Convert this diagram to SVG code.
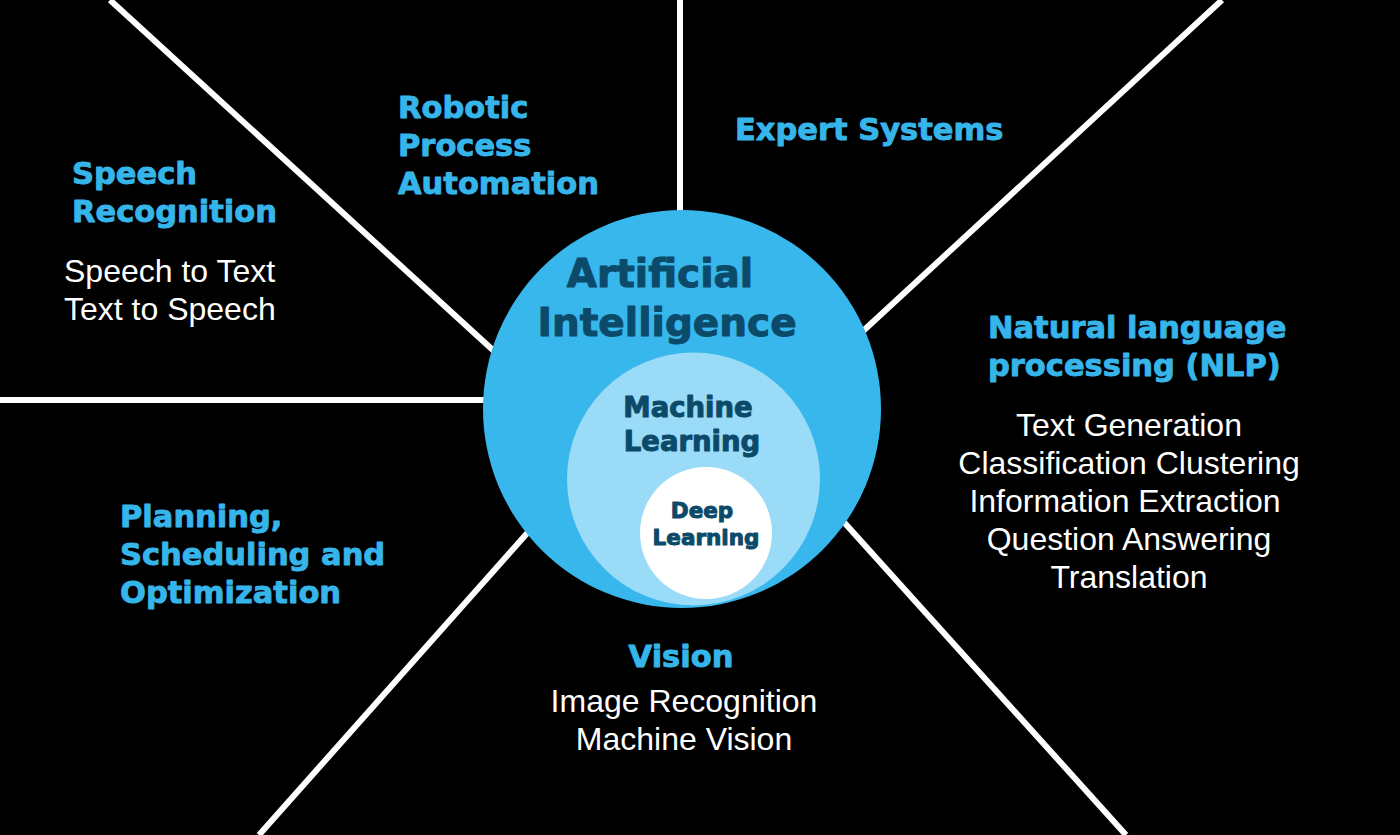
<svg xmlns="http://www.w3.org/2000/svg" width="1400" height="835" viewBox="0 0 1400 835">
  <style>
    .spoke { stroke: #ffffff; stroke-width: 6; stroke-linecap: butt; fill: none; }
    .head { font-family: "DejaVu Sans", "Liberation Sans", sans-serif; font-weight: bold; font-size: 30.5px; fill: #36B5EA; stroke: #36B5EA; stroke-width: 0.9px; stroke-linejoin: round; }
    .item { font-family: "Liberation Sans", Arial, sans-serif; font-size: 32px; fill: #ffffff; }
    .dark { font-family: "DejaVu Sans", "Liberation Sans", sans-serif; font-weight: bold; fill: #0C4A6A; stroke: #0C4A6A; stroke-width: 1px; stroke-linejoin: round; text-anchor: middle; }
    .mid { text-anchor: middle; }
  </style>
  <rect x="0" y="0" width="1400" height="835" fill="#000000"/>

  <g id="connectors">
    <line class="spoke" x1="110" y1="0" x2="495" y2="352"/>
    <line class="spoke" x1="680" y1="0" x2="680" y2="215"/>
    <line class="spoke" x1="1222" y1="0" x2="862" y2="332"/>
    <line class="spoke" x1="0" y1="400" x2="486" y2="400"/>
    <line class="spoke" x1="259" y1="835" x2="530" y2="530"/>
    <line class="spoke" x1="1126" y1="835" x2="842" y2="520"/>
  </g>

  <g id="ai-core">
    <circle cx="682" cy="409" r="199" fill="#38B7EC"/>
    <circle cx="693.5" cy="479" r="126.5" fill="#9ADBF8"/>
    <circle cx="706" cy="533" r="66" fill="#ffffff"/>
    <text class="dark" font-size="39" x="660" y="287">Artificial</text>
    <text class="dark" font-size="39" x="667" y="336">Intelligence</text>
    <text class="dark" font-size="27.5" x="688" y="417">Machine</text>
    <text class="dark" font-size="27.5" x="692" y="451">Learning</text>
    <text class="dark" font-size="21.5" x="702" y="518">Deep</text>
    <text class="dark" font-size="21.5" x="706" y="545">Learning</text>
  </g>

  <g id="speech-recognition">
    <text class="head" x="72" y="184">Speech</text>
    <text class="head" x="72" y="222">Recognition</text>
    <text class="item" x="64" y="282">Speech to Text</text>
    <text class="item" x="64" y="320">Text to Speech</text>
  </g>

  <g id="rpa">
    <text class="head" x="398" y="118">Robotic</text>
    <text class="head" x="398" y="156">Process</text>
    <text class="head" x="398" y="194">Automation</text>
  </g>

  <g id="expert-systems">
    <text class="head" x="735" y="140">Expert Systems</text>
  </g>

  <g id="nlp">
    <text class="head" x="988" y="338">Natural language</text>
    <text class="head" x="988" y="376">processing (NLP)</text>
    <text class="item mid" x="1129" y="436">Text Generation</text>
    <text class="item mid" x="1129" y="474">Classification Clustering</text>
    <text class="item mid" x="1125" y="512">Information Extraction</text>
    <text class="item mid" x="1129" y="550">Question Answering</text>
    <text class="item mid" x="1129" y="588">Translation</text>
  </g>

  <g id="planning">
    <text class="head" x="120" y="527">Planning,</text>
    <text class="head" x="120" y="565">Scheduling and</text>
    <text class="head" x="120" y="603">Optimization</text>
  </g>

  <g id="vision">
    <text class="head mid" x="681" y="667">Vision</text>
    <text class="item mid" x="684" y="712">Image Recognition</text>
    <text class="item mid" x="684" y="750">Machine Vision</text>
  </g>
</svg>
